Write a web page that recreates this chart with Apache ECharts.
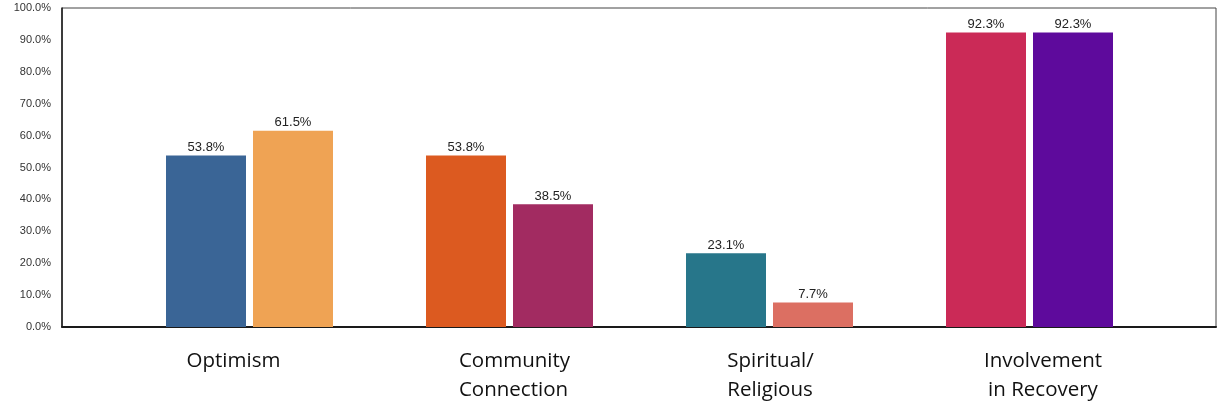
<!DOCTYPE html>
<html>
<head>
<meta charset="utf-8">
<script src="https://cdn.jsdelivr.net/npm/echarts@6/dist/echarts.min.js"></script>
<style>
html,body{margin:0;padding:0;background:#fff;}
#chart{width:1225px;height:413px;}
</style>
</head>
<body>
<div id="chart"></div>
<script>
const categories = ['Optimism', 'Community\nConnection', 'Spiritual/\nReligious', 'Involvement\nin Recovery'];
const firstBarValues = [53.8, 53.8, 23.1, 92.3];
const secondBarValues = [61.5, 38.5, 7.7, 92.3];
const yTicks = [0, 10, 20, 30, 40, 50, 60, 70, 80, 90, 100];

const firstColors = ['#3A6596', '#DC5A20', '#27768A', '#CB2A57'];
const secondColors = ['#EFA354', '#A22B61', '#DC6F62', '#5E0A9C'];
// label layout per category: horizontal shift (px) and line alignment
const labelShift = [-16, 5, 1, 13.5];
const labelAlign = ['left', 'left', 'left', 'center'];

const chart = echarts.init(document.getElementById('chart'), null, {renderer: 'canvas'});

const labelOpt = {
  show: true,
  position: 'top',
  distance: 1.5,
  fontFamily: 'Liberation Sans, Arial, sans-serif',
  fontSize: 13,
  color: '#222',
  formatter: p => p.value.toFixed(1) + '%'
};

const catFont = {fontFamily: '"Open Sans", sans-serif', fontSize: 20.5, color: '#111', lineHeight: 29};
const rich = {};
categories.forEach((c, i) => {
  const s = labelShift[i];
  rich['c' + i] = {...catFont, align: labelAlign[i],
    padding: s >= 0 ? [0, 0, 0, 2 * s] : [0, -2 * s, 0, 0]};
});

chart.setOption({
  animation: false,
  backgroundColor: '#fff',
  grid: [
    {left: 62, right: 9, top: 8, bottom: 86, show: true, borderColor: '#444', borderWidth: 1, backgroundColor: 'transparent'},
    {left: 119.5, right: 65.5, top: 8, bottom: 86}
  ],
  xAxis: [
    {gridIndex: 0, type: 'value', min: 0, max: 1,
     axisLine: {show: true, onZero: false, lineStyle: {color: '#1a1a1a', width: 2}},
     axisTick: {show: false}, axisLabel: {show: false}, splitLine: {show: false}},
    {gridIndex: 1, type: 'category', data: categories,
     axisLine: {show: false}, axisTick: {show: false}, splitLine: {show: false},
     axisLabel: {show: true, margin: 20, ...catFont,
       formatter: (v, idx) => v.split('\n').map(s => '{c' + idx + '|' + s + '}').join('\n'),
       rich: rich}}
  ],
  yAxis: [
    {gridIndex: 0, type: 'value', min: 0, max: 100, interval: 10,
     axisLine: {show: true, lineStyle: {color: '#1a1a1a', width: 1.5}},
     axisTick: {show: false}, splitLine: {show: false},
     axisLabel: {margin: 11, fontFamily: 'Liberation Sans, Arial, sans-serif', fontSize: 11, color: '#333',
                 formatter: v => yTicks.includes(v) ? v.toFixed(1) + '%' : ''}},
    {gridIndex: 1, type: 'value', min: 0, max: 100, interval: 10, show: false, splitLine: {show: false}}
  ],
  series: [
    {type: 'bar', xAxisIndex: 1, yAxisIndex: 1, barWidth: 80, barGap: '8.75%',
     data: firstBarValues.map((v, i) => ({value: v, itemStyle: {color: firstColors[i]}})),
     label: labelOpt},
    {type: 'bar', xAxisIndex: 1, yAxisIndex: 1, barWidth: 80, barGap: '8.75%',
     data: secondBarValues.map((v, i) => ({value: v, itemStyle: {color: secondColors[i]}})),
     label: labelOpt}
  ]
});
</script>
</body>
</html>
